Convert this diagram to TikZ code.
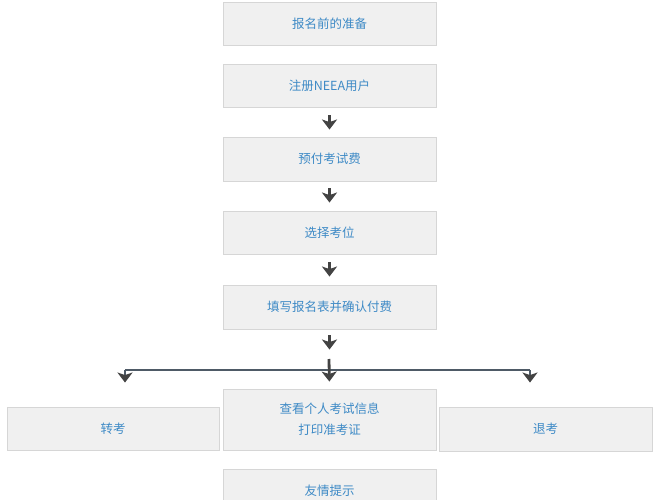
\documentclass[tikz,border=0pt]{standalone}
\usepackage{fontspec}
\newfontfamily\cjk{Noto Sans CJK SC}
\usetikzlibrary{arrows.meta}
\definecolor{boxfill}{HTML}{F0F0F0}
\definecolor{boxline}{HTML}{D6D6D6}
\definecolor{txt}{HTML}{3E8AC6}
\definecolor{arrc}{HTML}{434343}
\definecolor{linec}{HTML}{4E5A66}
\tikzset{
  box/.style={draw=boxline, fill=boxfill, line width=0.9pt, minimum width=213pt, minimum height=43pt,
    inner sep=2pt, align=center, text=txt, font=\cjk\fontsize{12.5}{21}\selectfont},
  arr/.style={draw=arrc, line width=3.8pt, -{Stealth[width=15pt,length=10pt,inset=2.5pt]}},
  brarr/.style={draw=linec, line width=2pt, -{Stealth[width=15pt,length=10pt,inset=2.5pt,color=arrc]}},
  brline/.style={draw=linec, line width=2pt},
}
\begin{document}
\begin{tikzpicture}[x=1pt,y=-1pt]
\useasboundingbox (0,0) rectangle (661,500);
\clip (0,0) rectangle (661,500);
\fill[white] (0,0) rectangle (661,500);
\node[box] (b1) at (329.5,23.5) {报名前的准备};
\node[box] (b2) at (329.5,85.5) {注册NEEA用户};
\node[box, minimum height=44pt] (b3) at (329.5,159) {预付考试费};
\node[box] (b4) at (329.5,232.5) {选择考位};
\node[box, minimum height=44pt] (b5) at (329.5,307) {填写报名表并确认付费};
\node[box, minimum height=61pt] (m) at (329.5,419.5) {查看个人考试信息\\打印准考证};
\node[box, minimum width=212pt] (l) at (113,428.5) {转考};
\node[box, minimum height=44pt] (r) at (545.5,429) {退考};
\node[box, minimum height=44pt] (f) at (329.5,491) {友情提示};
\draw[arr, shorten <=8pt, shorten >=7pt] (b2.south) -- (b3.north);
\draw[arr, shorten <=7pt, shorten >=8pt] (b3.south) -- (b4.north);
\draw[arr, shorten <=8pt, shorten >=8pt] (b4.south) -- (b5.north);
\draw[arr, shorten <=6pt, shorten >=39pt] (b5.south) -- (m.north);
\coordinate (jt) at (329,359);
\coordinate (jl) at (125,370);
\coordinate (jr) at (530,370);
\draw[brline] (jl) -- (jr);
\draw[arr, line width=2.8pt, shorten >=7pt] (jt) -- (m.north);
\draw[brarr, shorten >=24pt] (jl) -- (l.north -| jl);
\draw[brarr, shorten >=24pt] (jr) -- (r.north -| jr);
\end{tikzpicture}
\end{document}
